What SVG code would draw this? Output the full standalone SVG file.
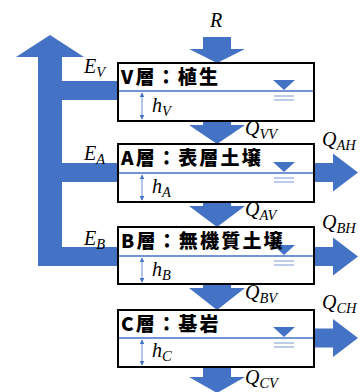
<svg xmlns="http://www.w3.org/2000/svg" width="360" height="392" viewBox="0 0 360 392">
  <defs>
    <style>
      .flow { fill: #4472C4; }
      .box { fill: #ffffff; stroke: #000000; stroke-width: 2; }
      .wl { stroke: #4472C4; stroke-width: 1.5; }
      .wl2 { stroke: #8EA9DB; stroke-width: 1.2; }
      .tri { fill: #4472C4; }
      .hdim { stroke: #4472C4; stroke-width: 0.8; fill: none; marker-start: url(#ah); marker-end: url(#ah); }
      .title { font-family: "Noto Sans CJK JP", "Noto Sans", sans-serif; font-weight: 900; font-size: 19px; letter-spacing: 2.2px; fill: #000000; }
      .m { font-family: "Liberation Serif", "DejaVu Serif", serif; font-style: italic; font-size: 20px; fill: #000000; }
      .sub { font-size: 14.5px; }
    </style>
    <marker id="ah" viewBox="0 0 8 8" refX="7" refY="4" markerWidth="5" markerHeight="5" orient="auto-start-reverse" markerUnits="userSpaceOnUse">
      <path d="M0,0 L8,4 L0,8 Z" fill="#4472C4"/>
    </marker>
  </defs>

  <!-- flows: rainfall, vertical percolation, evaporation, lateral outflow -->
  <g id="connectors">
    <polygon class="flow" points="203,37 231,37 231,49 245,49 217,63 189,49 203,49"/>
    <polygon class="flow" points="203,121 231,121 231,125 245,125 217,144 189,125 203,125"/>
    <polygon class="flow" points="203,202 231,202 231,206 245,206 217,227 189,206 203,206"/>
    <polygon class="flow" points="203,284 231,284 231,288 245,288 217,310 189,288 203,288"/>
    <polygon class="flow" points="203,367 231,367 231,377 245,377 217,393 189,377 203,377"/>
    <polygon class="flow" points="50,35 84,57 62,57 62,81 118,81 118,100 62,100 62,163 118,163 118,182 62,182 62,247 118,247 118,266 38,266 38,57 16,57"/>
    <polygon class="flow" points="314,163 333,163 333,153.5 358,172.5 333,191.5 333,182 314,182"/>
    <polygon class="flow" points="314,247 333,247 333,237.5 358,256.5 333,275.5 333,266 314,266"/>
    <polygon class="flow" points="314,328.5 333,328.5 333,319 358,338 333,357 333,347.5 314,347.5"/>
  </g>

  <!-- flow labels -->
  <g id="flow-labels">
    <text class="m" x="210" y="27">R</text>
    <text class="m" x="84" y="73">E<tspan class="sub" dy="4">V</tspan></text>
    <text class="m" x="84" y="160">E<tspan class="sub" dy="4">A</tspan></text>
    <text class="m" x="84" y="245">E<tspan class="sub" dy="4">B</tspan></text>
    <text class="m" x="245" y="135">Q<tspan class="sub" dy="4">VV</tspan></text>
    <text class="m" x="245" y="216">Q<tspan class="sub" dy="4">AV</tspan></text>
    <text class="m" x="245" y="299">Q<tspan class="sub" dy="4">BV</tspan></text>
    <text class="m" x="245" y="384">Q<tspan class="sub" dy="4">CV</tspan></text>
    <text class="m" x="322" y="146">Q<tspan class="sub" dy="4">AH</tspan></text>
    <text class="m" x="322" y="229">Q<tspan class="sub" dy="4">BH</tspan></text>
    <text class="m" x="322" y="309">Q<tspan class="sub" dy="4">CH</tspan></text>
  </g>

  <!-- layer V -->
  <g id="layer-V">
    <rect class="box" x="118" y="63" width="196" height="58"/>
    <line class="wl" x1="119" y1="91" x2="313" y2="91"/>
    <polygon class="tri" points="273,80 295,80 284,90"/>
    <line class="wl2" x1="274" y1="96" x2="294" y2="96"/>
    <line class="wl2" x1="274" y1="100" x2="294" y2="100"/>
    <line class="hdim" x1="142" y1="93" x2="142" y2="119"/>
    <text class="m" x="152" y="112">h<tspan class="sub" dy="4">V</tspan></text>
    <text class="title" x="121" y="84">V層：植生</text>
  </g>

  <!-- layer A -->
  <g id="layer-A">
    <rect class="box" x="118" y="144" width="196" height="58"/>
    <line class="wl" x1="119" y1="173" x2="313" y2="173"/>
    <polygon class="tri" points="273,162 295,162 284,172"/>
    <line class="wl2" x1="274" y1="178" x2="294" y2="178"/>
    <line class="wl2" x1="274" y1="182" x2="294" y2="182"/>
    <line class="hdim" x1="142" y1="175" x2="142" y2="200"/>
    <text class="m" x="152" y="193">h<tspan class="sub" dy="4">A</tspan></text>
    <text class="title" x="121" y="165">A層：表層土壌</text>
  </g>

  <!-- layer B -->
  <g id="layer-B">
    <rect class="box" x="118" y="227" width="196" height="57"/>
    <line class="wl" x1="119" y1="256" x2="313" y2="256"/>
    <polygon class="tri" points="273,245 295,245 284,255"/>
    <line class="wl2" x1="274" y1="261" x2="294" y2="261"/>
    <line class="wl2" x1="274" y1="265" x2="294" y2="265"/>
    <line class="hdim" x1="142" y1="258" x2="142" y2="282"/>
    <text class="m" x="152" y="276">h<tspan class="sub" dy="4">B</tspan></text>
    <text class="title" x="121" y="248">B層：無機質土壌</text>
  </g>

  <!-- layer C -->
  <g id="layer-C">
    <rect class="box" x="118" y="310" width="196" height="57"/>
    <line class="wl" x1="119" y1="338" x2="313" y2="338"/>
    <polygon class="tri" points="273,327 295,327 284,337"/>
    <line class="wl2" x1="274" y1="343" x2="294" y2="343"/>
    <line class="wl2" x1="274" y1="347" x2="294" y2="347"/>
    <line class="hdim" x1="142" y1="340" x2="142" y2="365"/>
    <text class="m" x="152" y="357">h<tspan class="sub" dy="4">C</tspan></text>
    <text class="title" x="121" y="331">C層：基岩</text>
  </g>
</svg>
